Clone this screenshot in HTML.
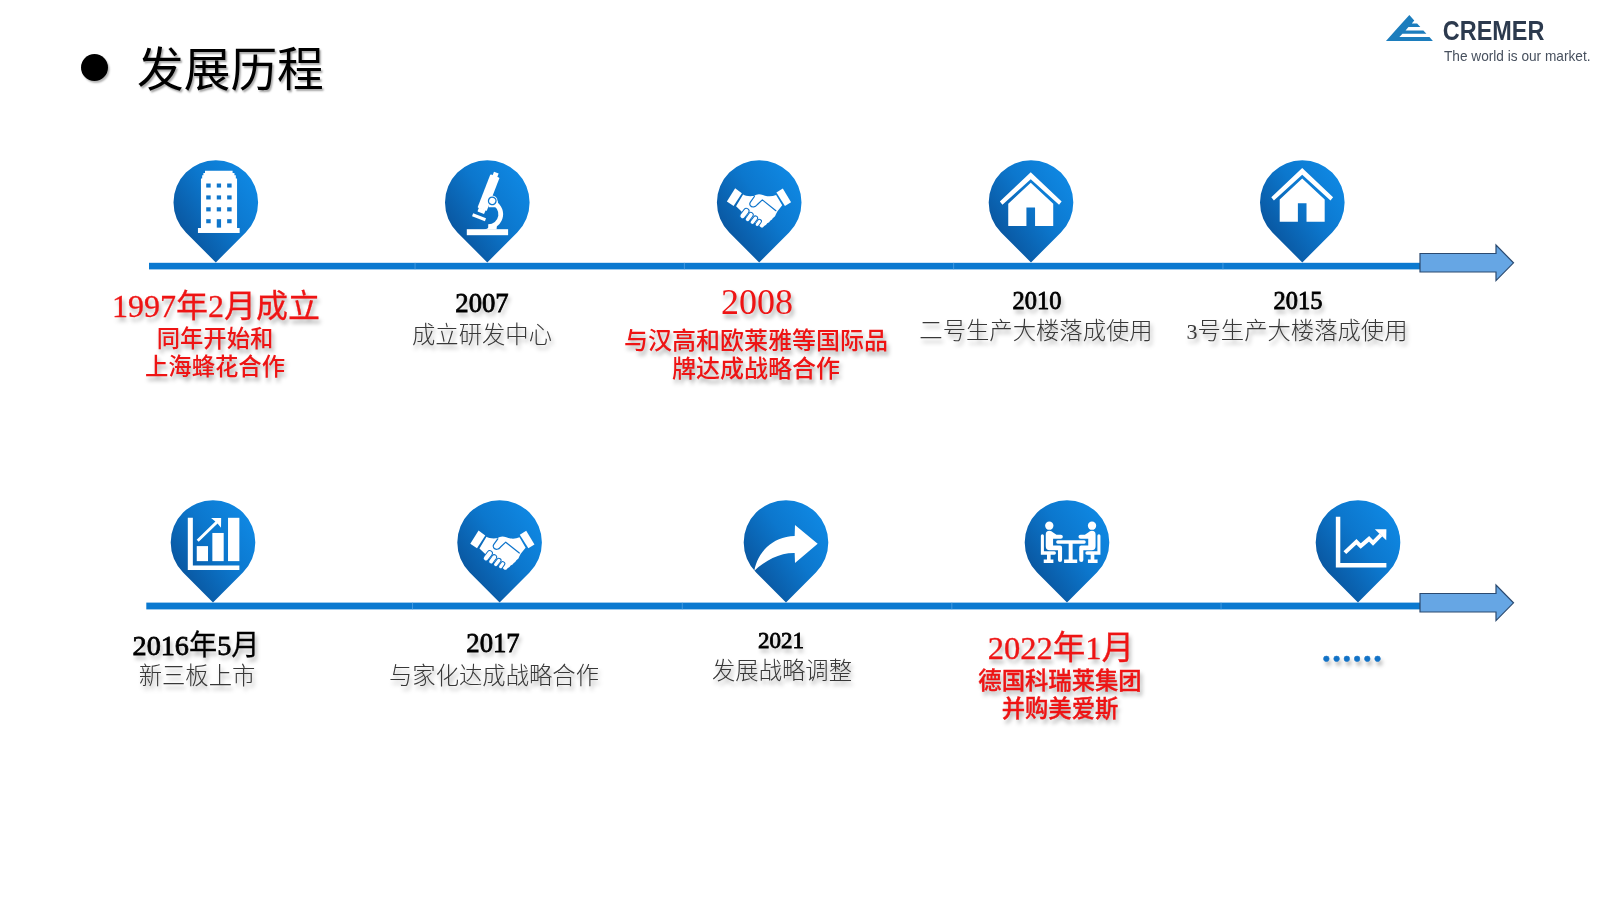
<!DOCTYPE html>
<html lang="zh-CN">
<head>
<meta charset="utf-8">
<title>发展历程</title>
<style>
  html, body { margin:0; padding:0; }
  body { width:1600px; height:900px; overflow:hidden; background:#ffffff; position:relative;
         font-family:"Liberation Sans","Noto Sans CJK SC",sans-serif; }
  #gfx { position:absolute; left:0; top:0; width:1600px; height:900px; will-change:transform; }
  .t { position:absolute; white-space:nowrap; text-align:center; transform:translateX(-50%); line-height:1; will-change:transform; }
  .sh { text-shadow: 2px 3.5px 4px rgba(0,0,0,0.34); }
  .title { position:absolute; left:137px; top:40px; font-size:46.7px; line-height:60px; color:#000;
           font-family:"Liberation Sans","Noto Sans CJK SC",sans-serif; font-weight:400;
           text-shadow: 1.5px 2px 2px rgba(0,0,0,0.35); white-space:nowrap; will-change:transform; }
  .bullet { position:absolute; left:80.5px; top:53.5px; width:27px; height:27px; border-radius:50%; background:#000;
            box-shadow: 1.5px 2px 2px rgba(0,0,0,0.3); }
  .num { font-family:"Liberation Serif",serif; }
  .yr { font-family:"Liberation Serif","Noto Sans CJK SC",serif; font-weight:500; color:#000; -webkit-text-stroke:0.8px #000; }
  .cj { font-weight:400; -webkit-text-stroke:0.3px #000; }
  .red { color:#ee1414; }
  .desc { font-family:"Liberation Sans","Noto Sans CJK SC",sans-serif; font-weight:300; color:#383838; font-size:23.33px; }
  .rdesc { font-family:"Liberation Sans","Noto Sans CJK SC",sans-serif; font-weight:500; color:#ee1414; font-size:23.33px; line-height:28px; }
</style>
</head>
<body>

<svg id="gfx" width="1600" height="900" viewBox="0 0 1600 900">
  <defs>
    <linearGradient id="pg" x1="0.92" y1="0.15" x2="0.12" y2="0.82">
      <stop offset="0" stop-color="#0f88e3"/>
      <stop offset="0.45" stop-color="#0c77cd"/>
      <stop offset="1" stop-color="#09539b"/>
    </linearGradient>
    <path id="pin" d="M0,60 L-29.9,29.9 A42.3,42.3 0 1 1 29.9,29.9 Z" fill="url(#pg)"/>
  </defs>

  <!-- timeline lines -->
  <rect x="149" y="262.8" width="1272" height="6.6" fill="#0b79d0"/>
  <rect x="146.3" y="602.6" width="1275" height="6.8" fill="#0b79d0"/>

  <g fill="#5aa6e6" opacity="0.75">
    <rect x="414.6" y="262.8" width="0.9" height="6.6"/><rect x="683.9" y="262.8" width="0.9" height="6.6"/><rect x="953.2" y="262.8" width="0.9" height="6.6"/><rect x="1222.5" y="262.8" width="0.9" height="6.6"/>
    <rect x="412.1" y="602.6" width="0.9" height="6.8"/><rect x="681.8" y="602.6" width="0.9" height="6.8"/><rect x="951.4" y="602.6" width="0.9" height="6.8"/><rect x="1220.6" y="602.6" width="0.9" height="6.8"/>
  </g>
  <!-- arrows -->
  <path d="M1420,253.5 H1496 V245 L1513.5,262.8 L1496,280.6 V272 H1420 Z" fill="#66a6e4" stroke="#2b4a70" stroke-width="1.2" stroke-linejoin="miter"/>
  <path d="M1420,593.5 H1496 V585 L1513.5,602.8 L1496,620.6 V612 H1420 Z" fill="#66a6e4" stroke="#2b4a70" stroke-width="1.2" stroke-linejoin="miter"/>

  <!-- pins row 1 -->
  <use href="#pin" x="215.8" y="202.5"/>
  <use href="#pin" x="487.3" y="202.5"/>
  <use href="#pin" x="759.2" y="202.5"/>
  <use href="#pin" x="1031" y="202.5"/>
  <use href="#pin" x="1302.3" y="202.5"/>
  <!-- pins row 2 -->
  <use href="#pin" x="213" y="542.5"/>
  <use href="#pin" x="499.6" y="542.5"/>
  <use href="#pin" x="786" y="542.5"/>
  <use href="#pin" x="1067" y="542.5"/>
  <use href="#pin" x="1358" y="542.5"/>

  <!-- ICONS -->
  <!-- building (zoom coords: origin 190,165 scale 1/12.33) -->
  <g transform="translate(190,165) scale(0.08112)">
    <path d="M135,782 V165 H150 V125 H165 V98 H185 V72 H525 V98 H548 V125 H565 V165 H580 V782 Z" fill="#fff"/>
    <rect x="98" y="776.6" width="514" height="61.4" fill="#fff"/>
    <g fill="#0f76cb">
      <rect x="200" y="228" width="55" height="50"/><rect x="330" y="228" width="53" height="50"/><rect x="458" y="228" width="55" height="50"/>
      <rect x="200" y="375" width="55" height="50"/><rect x="330" y="375" width="53" height="50"/><rect x="458" y="375" width="55" height="50"/>
      <rect x="200" y="521" width="55" height="51"/><rect x="330" y="521" width="53" height="51"/><rect x="458" y="521" width="55" height="51"/>
      <rect x="200" y="668" width="55" height="50"/><rect x="330" y="668" width="53" height="104"/><rect x="458" y="668" width="55" height="50"/>
    </g>
  </g>

  <!-- house 1 (origin 995,165 scale 1/13.43) -->
  <g id="house" transform="translate(995,165) scale(0.07446)">
    <path d="M480,98 L895,490 L860,535 L480,190 L100,535 L65,490 Z" fill="#fff"/>
    <path d="M480,240 L782,520 V820 H538 V572 H422 V820 H178 V520 Z" fill="#fff"/>
  </g>
  <!-- house 2 -->
  <use href="#house" x="271.46" y="-4.3"/>

  <!-- bar chart (origin 180,510 scale 1/13.846) -->
  <g transform="translate(180,510) scale(0.07222)" fill="#fff">
    <path d="M108,108 H178 V770 H822 V830 H108 Z"/>
    <rect x="232" y="500" width="156" height="208"/>
    <rect x="448" y="318" width="157" height="390"/>
    <rect x="665" y="108" width="157" height="600"/>
    <path d="M231,411 L259,439 L520,188 L568,245 L570,110 L430,112 L490,160 Z"/>
  </g>

  <!-- line chart (origin 1325,510 scale 1/13.846) -->
  <g transform="translate(1325,510) scale(0.07222)" fill="#fff">
    <path d="M150,95 H212 V733 H850 V795 H150 Z"/>
    <path d="M275,590 L435,440 L495,500 L610,400 L665,455 L775,345" fill="none" stroke="#fff" stroke-width="56" stroke-linejoin="miter" stroke-linecap="butt"/>
    <path d="M850,265 L690,268 L848,420 Z"/>
  </g>

  <!-- curved arrow (origin 748,515 scale 1/15) -->
  <g transform="translate(748,515) scale(0.066667)" fill="#fff">
    <path d="M95,835 C145,575 350,325 700,315 L705,150 L1045,430 L705,720 L700,570 C480,565 260,680 95,835 Z"/>
  </g>


  <!-- microscope -->
  <g fill="#fff">
    <rect x="466.8" y="229.2" width="41.3" height="6"/>
    <!-- arm -->
    <path d="M492.1,202.3 A12.5,12.5 0 0 1 488.2,226.7" fill="none" stroke="#fff" stroke-width="4.7"/>
    <path d="M483.8,229.4 Q489.2,229 490.6,224.2 L496.9,225.2 L496.6,229.4 Z"/>
    <path d="M488.6,201 H497.6 L499,207.2 H488.6 Z"/>
    <!-- tube group rotated about eyepiece top center -->
    <g transform="translate(496.3,172.7) rotate(21.2)">
      <rect x="-2.5" y="0" width="5" height="4.5"/>
      <rect x="-4.9" y="3.6" width="9.8" height="35.6" rx="0.8"/>
      <rect x="-3.6" y="38.6" width="7.2" height="4.4" rx="0.8"/>
      <rect x="-6.9" y="46.2" width="13.8" height="3.1"/>
      <circle cx="6.4" cy="27.7" r="5.3"/>
      <circle cx="6.4" cy="27.7" r="3.75" fill="#fff" stroke="#0e78cf" stroke-width="1.35"/>
    </g>
  </g>

  <!-- handshake (zoom coords origin 722,180 scale 1/16.36) -->
  <g id="shake" transform="translate(722,180) scale(0.06112)">
    <path d="M215,135 L325,215 L190,425 L80,350 Z" fill="#fff"/>
    <path d="M995,140 L1130,365 L1030,425 L890,205 Z" fill="#fff"/>
    <path d="M345,238 C385,262 430,268 525,262 C550,245 575,233 605,232 C645,232 690,255 740,265 C790,272 840,265 885,245 L985,415 L905,515 L880,565 L868,592 L830,626 L818,645 L788,668 L772,692 L740,708 L722,732 L690,752 L668,776 L640,776 L600,740 L330,560 L320,515 L230,430 Z" fill="#fff"/>
    <g fill="none" stroke-linecap="round" stroke-linejoin="round">
      <path d="M530,270 L462,365 C438,402 470,447 520,441 C545,438 560,425 575,405 L660,325 L882,502" stroke="#0e74cb" stroke-width="20"/>
      <path d="M337,588 L398,508" stroke="#0d70c6" stroke-width="104"/>
      <path d="M337,588 L398,508" stroke="#fff" stroke-width="72"/>
      <path d="M420,642 L472,570" stroke="#0d70c6" stroke-width="94"/>
      <path d="M420,642 L472,570" stroke="#fff" stroke-width="62"/>
      <path d="M497,690 L547,625" stroke="#0d70c6" stroke-width="88"/>
      <path d="M497,690 L547,625" stroke="#fff" stroke-width="56"/>
      <path d="M576,727 L612,677" stroke="#0d70c6" stroke-width="82"/>
      <path d="M576,727 L612,677" stroke="#fff" stroke-width="50"/>
    </g>
  </g>
  <use href="#shake" x="-256.6" y="342.3"/>

  <!-- meeting (zoom coords origin 1032,515 scale 1/16.36) -->
  <g transform="translate(1032,515) scale(0.06112)" fill="#fff">
    <g id="person">
      <circle cx="283" cy="175" r="68"/>
      <path d="M225,318 Q225,258 285,258 Q320,258 345,285 L400,322 H470 Q505,322 505,356 Q505,390 470,390 H345 V500 H460 Q492,500 492,535 V735 Q492,770 458,770 Q425,770 425,735 V575 H290 Q225,575 225,510 Z"/>
      <path d="M145,340 Q145,315 170,315 Q195,315 195,340 V595 H365 Q392,595 392,622 Q392,650 365,650 H305 V730 H350 V785 H192 V730 H245 V650 H145 Z"/>
    </g>
    <use href="#person" transform="translate(1265,0) scale(-1,1)"/>
    <path d="M422,415 H853 Q880,415 880,442 Q880,470 853,470 H665 V730 H740 V785 H525 V730 H600 V470 H422 Q395,470 395,442 Q395,415 422,415 Z"/>
  </g>

  <!-- LOGO -->
  <g transform="translate(1380,8) scale(0.044444)">
    <path d="M660,158 L771,280 L715,350 L835,350 L908,430 L640,430 L575,505 L976,505 L1044,580 L505,580 L435,655 L1113,655 L1190,740 L135,740 Z" fill="#1c7dbd"/>
  </g>
  <text x="1442.8" y="40.2" font-family="'Liberation Sans',sans-serif" font-weight="700" font-size="27" fill="#2c3a4e" textLength="101.6" lengthAdjust="spacingAndGlyphs">CREMER</text>
  <text x="1444" y="60.7" font-family="'Liberation Sans',sans-serif" font-weight="400" font-size="14.6" fill="#47505e" textLength="146.5" lengthAdjust="spacingAndGlyphs">The world is our market.</text>
</svg>

<div class="bullet"></div>
<div class="title">发展历程</div>

<!-- row 1 text -->
<div class="t sh red" style="left:216.2px; top:288px; font-size:32px; line-height:36px; -webkit-text-stroke:0.3px #ee1414; font-family:'Liberation Serif','Noto Sans CJK SC',serif;">1997年2月成立</div>
<div class="t sh rdesc" style="left:215.2px; top:325px;">同年开始和<br>上海蜂花合作</div>

<div class="t sh yr" style="left:481.9px; top:288px; font-size:26.67px; line-height:30px;">2007</div>
<div class="t sh desc" style="left:481.9px; top:324px;">成立研发中心</div>

<div class="t sh red num" style="left:756.8px; top:283px; font-size:36px; line-height:38px;">2008</div>
<div class="t sh rdesc" style="left:756px; top:327px; font-size:24px;">与汉高和欧莱雅等国际品<br>牌达成战略合作</div>

<div class="t sh yr" style="left:1036.9px; top:287px; font-size:24.4px; line-height:28px;">2010</div>
<div class="t sh desc" style="left:1036.4px; top:320px;">二号生产大楼落成使用</div>

<div class="t sh yr" style="left:1297.8px; top:287px; font-size:24.4px; line-height:28px;">2015</div>
<div class="t sh desc" style="left:1297.2px; top:320px;"><span class="num" style="font-size:22px;">3</span>号生产大楼落成使用</div>

<!-- row 2 text -->
<div class="t sh yr" style="left:196.2px; top:630.5px; font-size:28.2px; line-height:30px;">2016<span class="cj">年</span>5<span class="cj">月</span></div>
<div class="t sh desc" style="left:196.5px; top:665px;">新三板上市</div>

<div class="t sh yr" style="left:493.4px; top:628px; font-size:26.67px; line-height:30px;">2017</div>
<div class="t sh desc" style="left:494.1px; top:665px;">与家化达成战略合作</div>

<div class="t sh yr" style="left:780.7px; top:628px; font-size:23px; line-height:26px;">2021</div>
<div class="t sh desc" style="left:781.5px; top:660px;">发展战略调整</div>

<div class="t sh red" style="left:1060.6px; top:630px; font-size:32.5px; line-height:36px; -webkit-text-stroke:0.35px #ee1414; font-family:'Liberation Serif','Noto Sans CJK SC',serif;">2022年1月</div>
<div class="t sh rdesc" style="left:1060px; top:667px; font-weight:500; -webkit-text-stroke:0.35px #ee1414;">德国科瑞莱集团<br>并购美爱斯</div>

<div class="t sh" style="left:1352px; top:639px; font-size:30.7px; line-height:36px; color:#1272c6; font-weight:900; -webkit-text-stroke:0.5px #1272c6; font-family:'Noto Sans CJK SC',sans-serif;">……</div>

</body>
</html>
